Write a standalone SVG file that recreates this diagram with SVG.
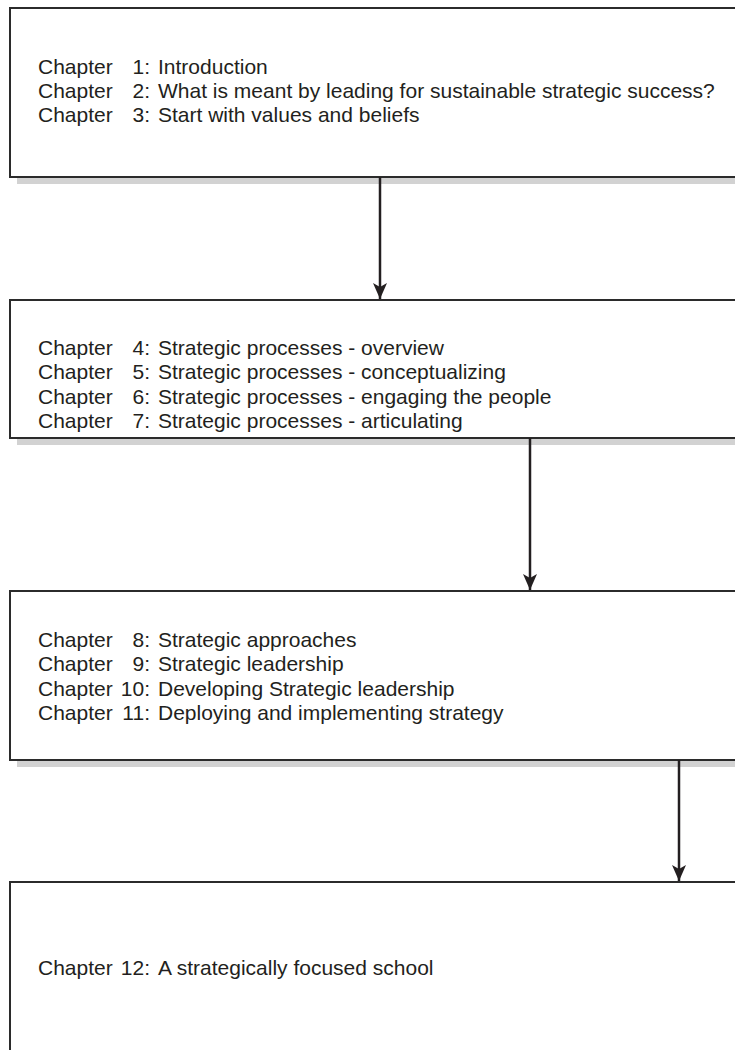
<svg xmlns="http://www.w3.org/2000/svg" width="735" height="1050" viewBox="0 0 735 1050">
<defs>
<style>
.box{fill:#fff;stroke:#2b2b2b;stroke-width:2}
.shadow{fill:#d2d2d2}
.t{font-family:"Liberation Sans",Arial,sans-serif;font-size:21px;fill:#231f20}
.n{text-anchor:end}
.conn{stroke:#231f20;stroke-width:2.5;fill:none}
</style>
<marker id="arr" markerUnits="userSpaceOnUse" markerWidth="16" markerHeight="14" viewBox="0 0 16 14" refX="16" refY="7" orient="auto">
<path d="M0,0 L16,7 L0,14 L4,7 Z" fill="#231f20"/>
</marker>
</defs>
<rect width="735" height="1050" fill="#fff"/>
<g id="box1">
<rect class="shadow" x="17" y="177" width="800" height="7"/>
<rect class="box" x="10" y="8" width="800" height="169"/>
<text class="t" x="38" y="74">Chapter</text><text class="t n" x="150" y="74">1:</text><text class="t" x="158" y="74">Introduction</text>
<text class="t" x="38" y="98">Chapter</text><text class="t n" x="150" y="98">2:</text><text class="t" x="158" y="98">What is meant by leading for sustainable strategic success?</text>
<text class="t" x="38" y="122">Chapter</text><text class="t n" x="150" y="122">3:</text><text class="t" x="158" y="122">Start with values and beliefs</text>
</g>
<g id="box2">
<rect class="shadow" x="17" y="438" width="800" height="7"/>
<rect class="box" x="10" y="300" width="800" height="138"/>
<text class="t" x="38" y="355">Chapter</text><text class="t n" x="150" y="355">4:</text><text class="t" x="158" y="355">Strategic processes - overview</text>
<text class="t" x="38" y="379">Chapter</text><text class="t n" x="150" y="379">5:</text><text class="t" x="158" y="379">Strategic processes - conceptualizing</text>
<text class="t" x="38" y="404">Chapter</text><text class="t n" x="150" y="404">6:</text><text class="t" x="158" y="404">Strategic processes - engaging the people</text>
<text class="t" x="38" y="428">Chapter</text><text class="t n" x="150" y="428">7:</text><text class="t" x="158" y="428">Strategic processes - articulating</text>
</g>
<g id="box3">
<rect class="shadow" x="17" y="760" width="800" height="7"/>
<rect class="box" x="10" y="591" width="800" height="169"/>
<text class="t" x="38" y="647">Chapter</text><text class="t n" x="150" y="647">8:</text><text class="t" x="158" y="647">Strategic approaches</text>
<text class="t" x="38" y="671">Chapter</text><text class="t n" x="150" y="671">9:</text><text class="t" x="158" y="671">Strategic leadership</text>
<text class="t" x="38" y="696">Chapter</text><text class="t n" x="150" y="696">10:</text><text class="t" x="158" y="696">Developing Strategic leadership</text>
<text class="t" x="38" y="720">Chapter</text><text class="t n" x="150" y="720">11:</text><text class="t" x="158" y="720">Deploying and implementing strategy</text>
</g>
<g id="box4">
<rect class="box" x="10" y="882" width="800" height="200"/>
<text class="t" x="38" y="975">Chapter</text><text class="t n" x="150" y="975">12:</text><text class="t" x="158" y="975">A strategically focused school</text>
</g>
<g id="connectors">
<line class="conn" x1="380" y1="177" x2="380" y2="299" marker-end="url(#arr)"/>
<line class="conn" x1="530" y1="438" x2="530" y2="590" marker-end="url(#arr)"/>
<line class="conn" x1="679" y1="760" x2="679" y2="881" marker-end="url(#arr)"/>
</g>
</svg>
